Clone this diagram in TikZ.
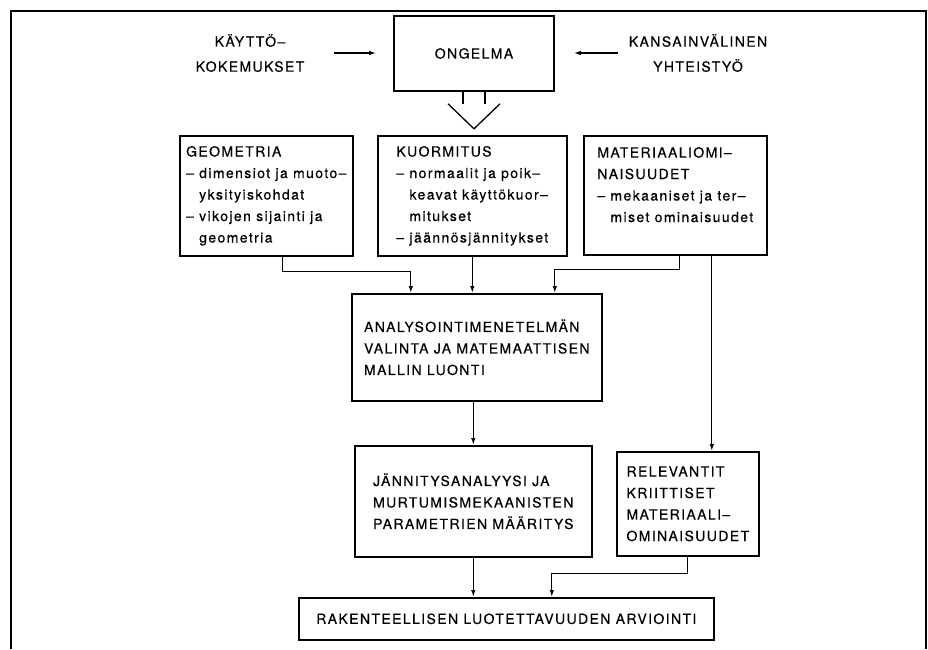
\documentclass[tikz,border=0pt]{standalone}
\usepackage{fontspec}
\setmainfont{TeX Gyre Heros}[LetterSpace=10, FakeBold=0.4]
\usetikzlibrary{arrows.meta}

\newcommand{\ind}{\hphantom{– }}

\begin{document}
\begin{tikzpicture}[x=1pt,y=-1pt,
  blk/.style={draw, line width=1.6pt, inner sep=0pt, align=left, anchor=north west,
    font=\fontsize{14}{21.5}\selectfont},
  txt/.style={align=center, font=\fontsize{14}{25}\selectfont},
  conn/.style={line width=1.3pt, -{Latex[length=7pt,width=4.5pt]}}]
  \useasboundingbox (0,0) rectangle (928,649);

  % Frame, open at the bottom
  \draw[line width=1.2pt] (11,649) -- (11,11) -- (926,11) -- (926,649);

  % Top row
  \node[blk, anchor=center, minimum width=160pt, minimum height=75pt] (ongelma) at (474,53.5) {ONGELMA};
  \node[txt] (kaytto) at (250,53) {KÄYTTÖ–\\KOKEMUKSET};
  \node[txt] (yhteis) at (698,53) {KANSAINVÄLINEN\\YHTEISTYÖ};
  \draw[conn, shorten <=26pt, shorten >=17pt] (kaytto.east) -- (kaytto.east -| ongelma.west);
  \draw[conn, shorten <=7pt, shorten >=19pt] (yhteis.west) -- (yhteis.west -| ongelma.east);

  % Hollow arrow down
  \draw[line width=1.3pt] ([xshift=-11pt]ongelma.south) -- ++(0,12)
    ([xshift=11pt]ongelma.south) -- ++(0,12);
  \draw[line width=1.3pt] ([shift={(-26pt,-12pt)}]ongelma.south) -- ([yshift=-37pt]ongelma.south)
    -- ([shift={(26pt,-12pt)}]ongelma.south);

  % Second row
  \node[blk, minimum width=173pt, minimum height=120pt] (geom) at (179,135)
    {GEOMETRIA\\– dimensiot ja muoto–\\\ind yksityiskohdat\\– vikojen sijainti ja\\\ind geometria};
  \node[blk, minimum width=189pt, minimum height=120pt] (kuorm) at (377,135)
    {KUORMITUS\\– normaalit ja poik–\\\ind keavat käyttökuor–\\\ind mitukset\\– jäännösjännitykset};
  \node[blk, minimum width=183pt, minimum height=119pt] (mat) at (583,135)
    {MATERIAALIOMI–\\NAISUUDET\\– mekaaniset ja ter–\\\ind miset ominaisuudet\\\mbox{}};

  % Analysis and results
  \node[blk, minimum width=250pt, minimum height=107pt] (analys) at (351,293)
    {ANALYSOINTIMENETELMÄN\\VALINTA JA MATEMAATTISEN\\MALLIN LUONTI};
  \node[blk, minimum width=237pt, minimum height=111pt] (jann) at (354,445)
    {JÄNNITYSANALYYSI JA\\MURTUMISMEKAANISTEN\\PARAMETRIEN MÄÄRITYS};
  \node[blk, minimum width=142pt, minimum height=104pt] (relev) at (616,451)
    {RELEVANTIT\\KRIITTISET\\MATERIAALI–\\OMINAISUUDET};
  \node[blk, minimum width=415pt, minimum height=42pt] (rak) at (298,597)
    {RAKENTEELLISEN LUOTETTAVUUDEN ARVIOINTI};

  % Connectors
  \draw[conn] ([xshift=16.5pt]geom.south) -- ++(0,15) -| ([xshift=-66pt]analys.north);
  \draw[conn] (kuorm.south) -- (kuorm.south |- analys.north);
  \draw[conn] ([xshift=4.5pt]mat.south) -- ++(0,14) -| ([xshift=78pt]analys.north);
  \draw[conn] ([xshift=36.5pt]mat.south) -- ([xshift=36.5pt]mat.south |- relev.north);
  \draw[conn] (jann.north |- analys.south) -- (jann.north);
  \draw[conn] (jann.south) -- (jann.south |- rak.north);
  \draw[conn] (relev.south) -- ++(0,17) -| ([xshift=45.5pt]rak.north);
\end{tikzpicture}
\end{document}
